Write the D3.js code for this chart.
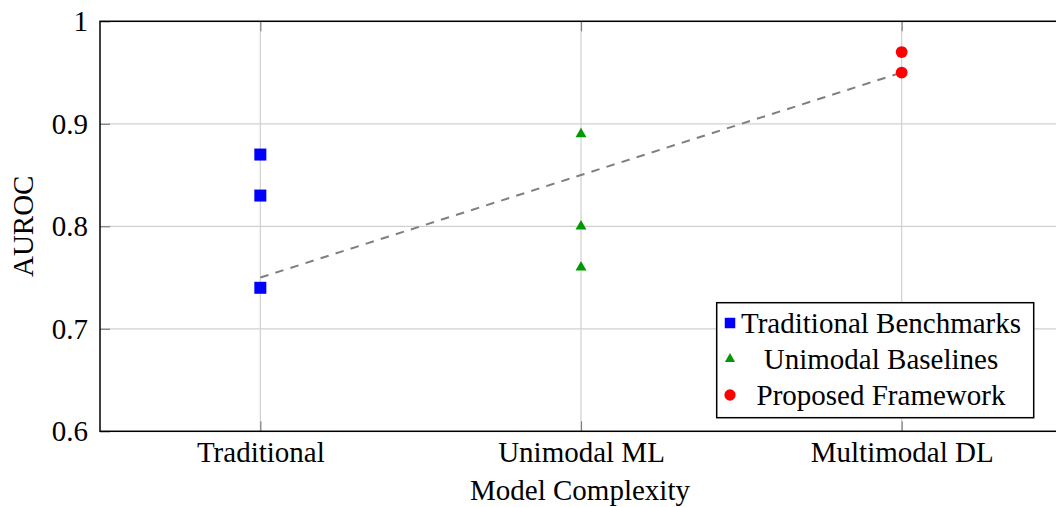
<!DOCTYPE html>
<html><head><meta charset="utf-8">
<script src="https://cdn.jsdelivr.net/npm/d3@7"></script>
<style>body{margin:0;background:#fff}svg{display:block}text{font-family:"Liberation Serif","Times New Roman",serif;fill:#000}</style>
</head><body><svg id="c" width="1056" height="507"></svg>
<script>
const categories = ["Traditional","Unimodal ML","Multimodal DL"];
const traditional = [0.87, 0.83, 0.74];
const unimodal = [0.89, 0.80, 0.76];
const proposed = [0.97, 0.95];
const trend = [0.75, 0.85, 0.95];
const yTicks = [0.6, 0.7, 0.8, 0.9, 1];
const seriesNames = ["Traditional Benchmarks","Unimodal Baselines","Proposed Framework"];

const svg = d3.select("#c");
const L=100, R=1062, T=21.3, B=431.3;
const x = d3.scaleLinear().domain([-0.5, 2.5]).range([L, R]);
const y = d3.scaleLinear().domain([0.6, 1]).range([B, T]);
const fs = 29;

// grid
const g = svg.append("g");
g.selectAll(".vg").data(categories).join("line")
  .attr("x1",(d,i)=>x(i)).attr("x2",(d,i)=>x(i)).attr("y1",T).attr("y2",B)
  .attr("stroke","#d0d0d0").attr("stroke-width",1.2);
g.selectAll(".hg").data(yTicks).join("line")
  .attr("x1",L).attr("x2",R).attr("y1",d=>y(d)).attr("y2",d=>y(d))
  .attr("stroke","#d0d0d0").attr("stroke-width",1.2);

// axes via d3 axis
const xAxis = d3.axisBottom(x).tickValues([0,1,2]).tickFormat(i=>categories[i]).tickSizeInner(-10).tickSizeOuter(0).tickPadding(10);
const xg = svg.append("g").attr("transform",`translate(0,${B})`).call(xAxis);
xg.select(".domain").remove();
xg.selectAll("line").attr("stroke","#808080").attr("stroke-width",1.2);
xg.selectAll("text").attr("font-size",fs).attr("font-family","Liberation Serif").attr("fill","#000");
const xt = svg.append("g").attr("transform",`translate(0,${T})`).call(d3.axisTop(x).tickValues([0,1,2]).tickFormat("").tickSizeInner(-10).tickSizeOuter(0));
xt.select(".domain").remove();
xt.selectAll("line").attr("stroke","#808080").attr("stroke-width",1.2);

const yAxis = d3.axisLeft(y).tickValues(yTicks).tickFormat(d=>d===1?"1":d3.format(".1f")(d)).tickSizeInner(-10).tickSizeOuter(0).tickPadding(12);
const yg = svg.append("g").attr("transform",`translate(${L},0)`).call(yAxis);
yg.select(".domain").remove();
yg.selectAll("line").attr("stroke","#808080").attr("stroke-width",1.2);
yg.selectAll("text").attr("font-size",fs).attr("font-family","Liberation Serif").attr("fill","#000");

// frame
svg.append("rect").attr("x",L).attr("y",T).attr("width",R-L).attr("height",B-T)
  .attr("fill","none").attr("stroke","#000").attr("stroke-width",1.5);

// trend line
svg.append("path").datum(trend)
  .attr("d", d3.line().x((d,i)=>x(i)).y(d=>y(d)))
  .attr("fill","none").attr("stroke","#7f7f7f").attr("stroke-width",2).attr("stroke-dasharray","8.5,7.3");

// markers
const sq = d3.symbol().type(d3.symbolSquare).size(144);
const tri = d3.symbol().type(d3.symbolTriangle).size(52);
const cir = d3.symbol().type(d3.symbolCircle).size(110);
svg.selectAll(".s1").data(traditional).join("path")
  .attr("d",sq).attr("transform",d=>`translate(${x(0)},${y(d)})`).attr("fill","#0000ff");
svg.selectAll(".s2").data(unimodal).join("path")
  .attr("d",tri).attr("transform",d=>`translate(${x(1)},${y(d)})`).attr("fill","#009a00");
svg.selectAll(".s3").data(proposed).join("path")
  .attr("d",cir).attr("transform",d=>`translate(${x(2)},${y(d)})`).attr("fill","#ff0000");

// axis titles
svg.append("text").attr("x",580).attr("y",500).attr("text-anchor","middle").attr("font-size",fs).text("Model Complexity");
svg.append("text").attr("transform",`translate(33,${(T+B)/2}) rotate(-90)`).attr("text-anchor","middle").attr("font-size",fs).text("AUROC");

// legend
const lg = svg.append("g");
lg.append("rect").attr("x",716.7).attr("y",302.7).attr("width",317).attr("height",115)
  .attr("fill","#fff").attr("stroke","#000").attr("stroke-width",1.5);
const cols = ["#0000ff","#009a00","#ff0000"];
const symSz = [d3.symbol().type(d3.symbolSquare).size(110), d3.symbol().type(d3.symbolTriangle).size(45), d3.symbol().type(d3.symbolCircle).size(100)];
const rows = [323, 359, 395];
lg.selectAll(".lm").data(seriesNames).join("path")
  .attr("d",(d,i)=>symSz[i]()).attr("transform",(d,i)=>`translate(730,${rows[i]})`).attr("fill",(d,i)=>cols[i]);
lg.selectAll(".lt").data(seriesNames).join("text")
  .attr("x",881).attr("y",(d,i)=>rows[i]).attr("dy","0.35em").attr("text-anchor","middle").attr("font-size",fs).text(d=>d);
</script></body></html>
